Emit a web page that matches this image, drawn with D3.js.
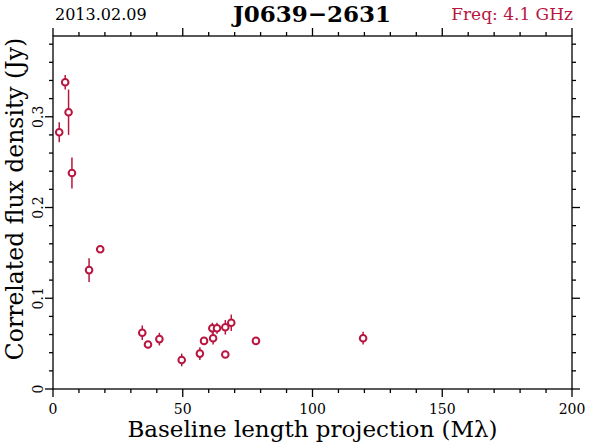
<!DOCTYPE html>
<html lang="en">
<head>
  <meta charset="UTF-8">
  <title>J0639-2631</title>
  <script src="https://d3js.org/d3.v7.min.js"></script>
  <style>
    body { margin: 0; background: #fff; }
    svg text { font-family: 'DejaVu Serif', 'Liberation Serif', serif; fill: #000; }
  </style>
</head>
<body>
<svg width="590" height="443"></svg>
<script>
  // baseline length projection (Mlambda), flux (Jy), error (Jy)
  const baseline = [2.4, 4.7, 6.0, 7.3, 13.9, 18.2, 34.4, 36.6, 41.0, 49.6,
                    56.6, 58.2, 61.4, 61.7, 63.2, 66.4, 66.4, 68.7, 78.2, 119.5];
  const flux     = [0.283, 0.338, 0.305, 0.238, 0.131, 0.154, 0.062, 0.049, 0.055, 0.032,
                    0.039, 0.053, 0.067, 0.056, 0.067, 0.068, 0.038, 0.073, 0.053, 0.056];
  const fluxErr  = [0.011, 0.008, 0.025, 0.017, 0.013, 0.003, 0.008, 0.004, 0.007, 0.007,
                    0.007, 0.004, 0.006, 0.007, 0.006, 0.008, 0.003, 0.009, 0.003, 0.007];
  const xTicks = [0, 50, 100, 150, 200];
  const yTicks = [0, 0.1, 0.2, 0.3];

  const data = baseline.map((b, i) => ({ x: b, y: flux[i], e: fluxErr[i] }));

  const red = "#b8163f";
  const pLeft = 53, pRight = 572, pTop = 36, pBottom = 389;

  const svg = d3.select("svg");
  const x = d3.scaleLinear().domain([0, 200]).range([pLeft, pRight]);
  const y = d3.scaleLinear().domain([0, 0.389]).range([pBottom, pTop]);

  // frame + ticks (all outward)
  const xMinor = d3.range(0, 201, 10), yMinor = d3.range(0, 0.389, 0.02);
  const g = svg.append("g").attr("stroke", "#000").attr("stroke-width", 1.3).attr("fill", "none");
  g.append("rect").attr("x", pLeft).attr("y", pTop).attr("width", pRight - pLeft).attr("height", pBottom - pTop);

  xMinor.forEach(v => {
    const len = v % 50 === 0 ? 8 : 4;
    g.append("line").attr("x1", x(v)).attr("x2", x(v)).attr("y1", pBottom).attr("y2", pBottom + len);
    g.append("line").attr("x1", x(v)).attr("x2", x(v)).attr("y1", pTop).attr("y2", pTop - len);
  });
  yMinor.forEach((v, i) => {
    const len = i % 5 === 0 ? 8 : 4;
    g.append("line").attr("x1", pLeft).attr("x2", pLeft - len).attr("y1", y(v)).attr("y2", y(v));
    g.append("line").attr("x1", pRight).attr("x2", pRight + len).attr("y1", y(v)).attr("y2", y(v));
  });

  // tick labels
  svg.selectAll(".xt").data(xTicks).enter().append("text")
    .attr("x", d => x(d)).attr("y", 414)
    .attr("text-anchor", "middle").attr("font-size", 14)
    .text(d => d);
  svg.selectAll(".yt").data(yTicks).enter().append("text")
    .attr("transform", d => `translate(43,${y(d)}) rotate(-90)`)
    .attr("text-anchor", "middle").attr("font-size", 14)
    .text(d => d === 0 ? "0" : d.toFixed(1));

  // axis titles
  svg.append("text").attr("x", (pLeft + pRight) / 2).attr("y", 437)
    .attr("text-anchor", "middle").attr("font-size", 23)
    .text("Baseline length projection (M\u03bb)");
  svg.append("text")
    .attr("transform", "translate(23,199) rotate(-90)")
    .attr("text-anchor", "middle").attr("font-size", 23.5)
    .text("Correlated flux density (Jy)");

  // header
  svg.append("text").attr("x", 55).attr("y", 20).attr("font-size", 16).text("2013.02.09");
  svg.append("text").attr("x", 312).attr("y", 22).attr("text-anchor", "middle")
    .attr("font-size", 23).attr("font-weight", "bold")
    .text("J0639\u22122631");
  svg.append("text").attr("x", 573).attr("y", 20).attr("text-anchor", "end")
    .attr("font-size", 17).style("fill", red).text("Freq: 4.1 GHz");

  // error bars
  svg.selectAll(".err").data(data).enter().append("line")
    .attr("x1", d => x(d.x)).attr("x2", d => x(d.x))
    .attr("y1", d => y(d.y - d.e)).attr("y2", d => y(d.y + d.e))
    .attr("stroke", red).attr("stroke-width", 1.5);

  // points
  svg.selectAll(".pt").data(data).enter().append("circle")
    .attr("cx", d => x(d.x)).attr("cy", d => y(d.y)).attr("r", 3.3)
    .attr("fill", "#fff").attr("stroke", red).attr("stroke-width", 2);
</script>
</body>
</html>
